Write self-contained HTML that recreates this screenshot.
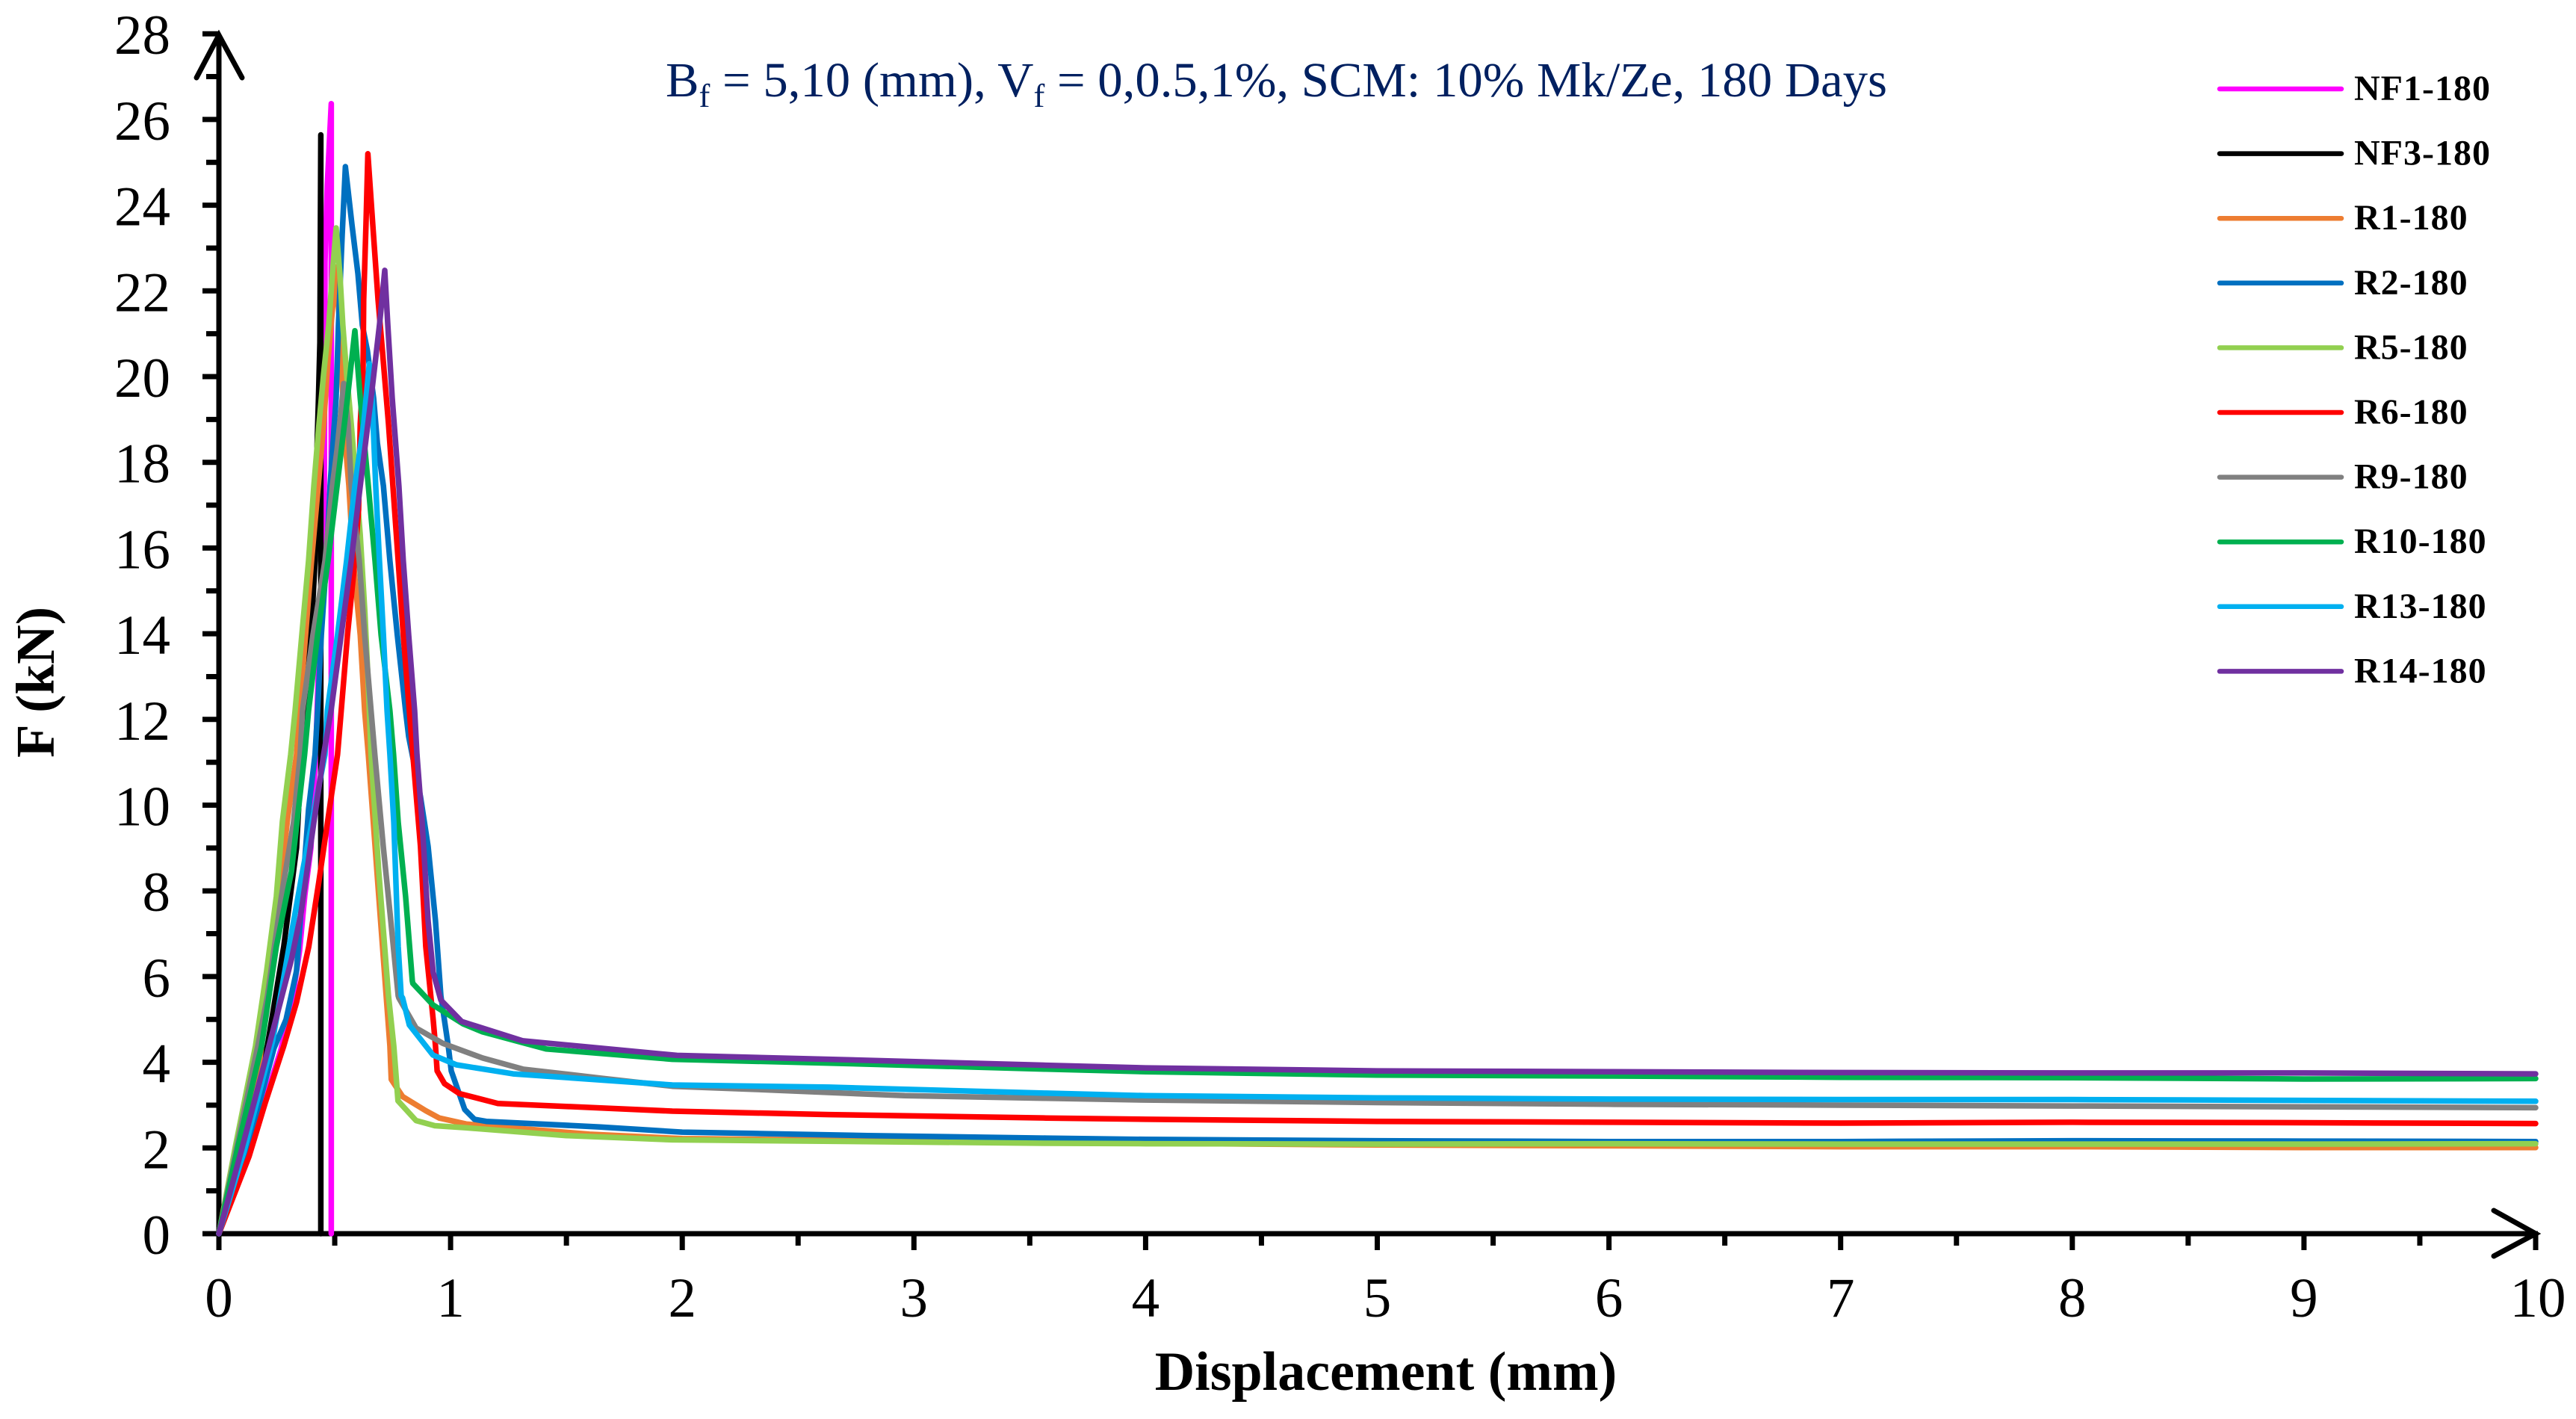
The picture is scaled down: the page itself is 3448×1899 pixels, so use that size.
<!DOCTYPE html>
<html lang="en">
<head>
<meta charset="utf-8">
<title>Load-displacement curves</title>
<style>
html,body{margin:0;padding:0;background:#fff;}
svg{display:block;font-family:"Liberation Serif",serif;}
</style>
</head>
<body>
<svg id="chart" xmlns="http://www.w3.org/2000/svg" width="3448" height="1899" viewBox="0 0 3448 1899">
  <rect x="0" y="0" width="3448" height="1899" fill="#ffffff"/>
  <g id="axes"></g>
  <g id="series"></g>
  <g id="legend"></g>
  <text x="891" y="129" font-size="66" fill="#002060" textLength="1635" lengthAdjust="spacingAndGlyphs">B<tspan dy="14" font-size="44">f</tspan><tspan dy="-14"> = 5,10 (mm), V</tspan><tspan dy="14" font-size="44">f</tspan><tspan dy="-14"> = 0,0.5,1%, SCM: 10% Mk/Ze, 180 Days</tspan></text>
  <text x="1855" y="1860" font-size="74" font-weight="bold" text-anchor="middle">Displacement (mm)</text>
  <text transform="translate(72,913) rotate(-90)" font-size="73" font-weight="bold" text-anchor="middle">F (kN)</text>
</svg>
<script>
const xTickLabels = [0,1,2,3,4,5,6,7,8,9,10];
const yTickLabels = [0,2,4,6,8,10,12,14,16,18,20,22,24,26,28];
const xMinorTicks = [0.5,1.5,2.5,3.5,4.5,5.5,6.5,7.5,8.5,9.5];
const yMinorTicks = [1,3,5,7,9,11,13,15,17,19,21,23,25,27];

const seriesNames = ["NF1-180","NF3-180","R1-180","R2-180","R5-180","R6-180","R9-180","R10-180","R13-180","R14-180"];
const seriesColors = ["#ff00ff","#000000","#ed7d31","#0070c0","#92d050","#ff0000","#808080","#00b050","#00b0f0","#7030a0"];

const nf1X = [0,0.1,0.19,0.268,0.313,0.348,0.371,0.397,0.42,0.455,0.458,0.468,0.485,0.485];
const nf1Y = [0,1.5,2.95,4.3,5.3,6.6,7.9,9.0,11.5,17.45,22.67,24.47,26.37,0];

const nf3X = [0,0.1,0.21,0.28,0.335,0.361,0.375,0.399,0.415,0.42,0.424,0.43,0.436,0.44,0.44];
const nf3Y = [0,1.9,4.4,6.7,9.0,11.65,12.8,14.1,15.7,17.45,18.45,19.5,20.8,25.64,0];

const r1X = [0,0.07,0.174,0.297,0.335,0.348,0.374,0.4,0.429,0.452,0.471,0.484,0.506,0.513,0.529,0.532,0.548,0.561,0.58,0.61,0.629,0.645,0.69,0.738,0.744,0.793,0.893,0.951,1.067,1.6,2,3.57,4,5,6,7,8,9,10];
const r1Y = [0,1.9,3.93,9.7,11.18,12.2,13.97,15.7,17.45,18.9,20.4,21.2,22.56,21.8,20.77,19.84,18.3,17.45,15.7,13.97,12.2,11.18,7.87,4.38,3.6,3.2,2.87,2.7,2.56,2.32,2.22,2.13,2.11,2.07,2.05,2.03,2.03,2.01,2.01];

const r2X = [0,0.119,0.238,0.29,0.335,0.387,0.415,0.426,0.442,0.464,0.48,0.506,0.516,0.532,0.546,0.574,0.6,0.619,0.641,0.668,0.684,0.71,0.738,0.77,0.806,0.819,0.87,0.903,0.935,0.958,0.99,1.003,1.061,1.103,1.154,1.648,2,2.3,2.8,3.57,4,5,6,7,8,9,10];
const r2Y = [0,1.92,4.33,5,6.13,9.9,11.18,12.2,13.97,15.7,17.45,19.5,21.2,23.3,24.9,23.56,22.4,21.2,20.6,19.5,18.45,17.45,15.7,13.97,12.2,11.6,10.2,9.04,7.3,5.55,4.38,3.8,2.9,2.67,2.62,2.49,2.37,2.34,2.29,2.23,2.2,2.17,2.15,2.15,2.17,2.16,2.15];

const r5X = [0,0.07,0.158,0.206,0.248,0.274,0.31,0.329,0.358,0.387,0.41,0.432,0.452,0.474,0.49,0.506,0.522,0.535,0.551,0.571,0.593,0.61,0.63,0.645,0.657,0.69,0.732,0.755,0.773,0.851,0.932,1.067,1.5,1.957,3.57,4,5,6,7,8,9,10];
const r5Y = [0,2,4.38,6.13,7.87,9.62,11.18,12.2,13.97,15.7,17.45,18.9,20.07,21.2,22.4,23.47,22.4,21.2,20.07,18.9,17.45,16.3,14.5,12.8,11.18,8.45,5.55,4.38,3.1,2.64,2.52,2.47,2.29,2.19,2.11,2.1,2.09,2.1,2.09,2.09,2.09,2.1];

const r6X = [0,0.13,0.2,0.28,0.335,0.388,0.431,0.485,0.512,0.528,0.555,0.587,0.603,0.61,0.622,0.625,0.635,0.643,0.664,0.687,0.706,0.732,0.751,0.774,0.796,0.822,0.837,0.87,0.893,0.925,0.935,0.942,0.974,1.038,1.204,1.957,2.634,3.57,4,5,6,7,8,9,10];
const r6Y = [0,1.8,3.05,4.38,5.4,6.7,8.2,10.2,11.18,12.2,13.97,15.7,16.9,18.9,20.07,21.8,23.56,25.2,23.56,21.8,20.6,18.9,17.45,15.7,13.97,12.2,11.18,9.04,6.7,5,4.38,3.8,3.5,3.27,3.04,2.86,2.78,2.7,2.67,2.62,2.6,2.58,2.6,2.59,2.57];

const r9X = [0,0.08,0.168,0.21,0.27,0.322,0.351,0.361,0.406,0.458,0.49,0.51,0.539,0.558,0.571,0.606,0.629,0.657,0.673,0.71,0.742,0.774,0.777,0.851,0.967,1.138,1.312,1.648,1.957,2.3,2.96,3.57,4,5,6,7,8,9,10];
const r9Y = [0,2.1,4.38,5.55,7.87,9.6,11.18,12.2,13.97,15.7,17.45,18.3,19.84,18.9,17.45,15.7,13.97,12.2,11.18,9,7.3,5.55,5.5,4.8,4.44,4.1,3.84,3.63,3.44,3.37,3.22,3.16,3.12,3.06,3.02,3,2.98,2.96,2.94];

const r10X = [0,0.085,0.184,0.248,0.313,0.37,0.387,0.426,0.471,0.51,0.555,0.587,0.61,0.645,0.674,0.7,0.738,0.754,0.774,0.806,0.835,0.837,0.924,1.053,1.138,1.412,1.957,2.634,3.57,4,5,6,7,8,9,10];
const r10Y = [0,2.1,4.38,6.7,8.45,11.18,12.2,13.97,15.7,17.45,19.5,21.07,19.5,17.45,15.7,13.97,12.2,11.18,9.6,7.87,5.9,5.84,5.34,4.9,4.71,4.31,4.07,3.98,3.84,3.78,3.7,3.68,3.65,3.64,3.61,3.62];

const r13X = [0,0.11,0.232,0.303,0.361,0.458,0.468,0.512,0.551,0.587,0.625,0.649,0.661,0.677,0.693,0.71,0.726,0.738,0.755,0.774,0.787,0.793,0.822,0.924,1.025,1.27,1.957,2.634,3.57,4,5,6,7,8,9,10];
const r13Y = [0,1.95,4.5,6.7,8.45,11.18,12.2,13.97,15.7,17.45,18.9,20.3,19.5,17.45,15.7,13.97,12.2,11.18,9.6,6.7,5.55,5.5,4.87,4.17,3.94,3.73,3.47,3.42,3.28,3.22,3.17,3.14,3.13,3.13,3.11,3.09];

const r14X = [0,0.1,0.216,0.313,0.355,0.41,0.452,0.484,0.528,0.571,0.61,0.657,0.693,0.716,0.729,0.748,0.777,0.796,0.819,0.845,0.855,0.877,0.903,0.925,0.958,1.048,1.312,1.977,2.634,3.57,4,5,6,7,8,9,10];
const r14Y = [0,2,4.38,6.4,7.5,9.6,11.18,12.2,13.97,15.7,17.45,19.5,21.2,22.48,21.2,19.5,17.45,15.7,13.97,12.2,11.18,9.6,7.3,6.1,5.45,4.95,4.5,4.16,4.07,3.93,3.87,3.8,3.78,3.76,3.75,3.75,3.73];

const seriesX = [nf1X,nf3X,r1X,r2X,r5X,r6X,r9X,r10X,r13X,r14X];
const seriesY = [nf1Y,nf3Y,r1Y,r2Y,r5Y,r6Y,r9Y,r10Y,r13Y,r14Y];

const NS = "http://www.w3.org/2000/svg";
function xScale(v){ return 293 + 310.1 * v; }
function yScale(v){ return 1651 - 57.35 * v; }
function make(tag, attrs, parent){
  const el = document.createElementNS(NS, tag);
  for (const k in attrs) el.setAttribute(k, attrs[k]);
  parent.appendChild(el);
  return el;
}
const axes = document.getElementById("axes");
const seriesGroup = document.getElementById("series");
const legend = document.getElementById("legend");
const AXW = 7;

const xAxisLine = make("line",{x1:271,y1:yScale(0),x2:3397,y2:yScale(0),stroke:"#000","stroke-width":AXW},axes);


const yAxisLine = make("line",{x1:xScale(0),y1:yScale(0)+22,x2:xScale(0),y2:46,stroke:"#000","stroke-width":AXW},axes);


const yArrow = make("polyline",{points:"263,104 293,47 324,104",fill:"none",stroke:"#000","stroke-width":AXW,"stroke-linecap":"round","stroke-linejoin":"miter"},axes);


const xArrow = make("polyline",{points:"3338,1620 3394,1651 3338,1681",fill:"none",stroke:"#000","stroke-width":AXW,"stroke-linecap":"round","stroke-linejoin":"miter"},axes);



xTickLabels.forEach(function(v){
  const t = make("line",{x1:xScale(v),y1:yScale(0),x2:xScale(v),y2:yScale(0)+22,stroke:"#000","stroke-width":AXW},axes);
  
  
  const l = make("text",{x:xScale(v)+(v===10?3:0),y:1762,"font-size":75,"text-anchor":"middle",fill:"#000"},axes);
  l.textContent = v;
  
  
});
xMinorTicks.forEach(function(v){
  const t = make("line",{x1:xScale(v),y1:yScale(0),x2:xScale(v),y2:yScale(0)+16,stroke:"#000","stroke-width":AXW},axes);
  
  
});
yTickLabels.forEach(function(v){
  const t = make("line",{x1:271,y1:yScale(v),x2:xScale(0),y2:yScale(v),stroke:"#000","stroke-width":AXW},axes);
  
  
  const l = make("text",{x:228,y:yScale(v)+27,"font-size":75,"text-anchor":"end",fill:"#000"},axes);
  l.textContent = v;
  
  
});
yMinorTicks.forEach(function(v){
  const t = make("line",{x1:276,y1:yScale(v),x2:xScale(0),y2:yScale(v),stroke:"#000","stroke-width":AXW},axes);
  
  
});

seriesNames.forEach(function(name,i){
  const pts = seriesX[i].map(function(x,j){ return xScale(x).toFixed(1)+","+yScale(seriesY[i][j]).toFixed(1); }).join(" ");
  const p = make("polyline",{points:pts,fill:"none",stroke:seriesColors[i],"stroke-width":7.5,"stroke-linejoin":"round","stroke-linecap":"round"},seriesGroup);
  
  
  const ly = 119 + 86.6 * i;
  const sw = make("line",{x1:2971,y1:ly,x2:3134,y2:ly,stroke:seriesColors[i],"stroke-width":6.5,"stroke-linecap":"round"},legend);
  
  
  const lt = make("text",{x:3151,y:ly+15,"font-size":48,"font-weight":"bold","letter-spacing":1,fill:"#000"},legend);
  lt.textContent = name;
  
  
});
</script>
</body>
</html>
